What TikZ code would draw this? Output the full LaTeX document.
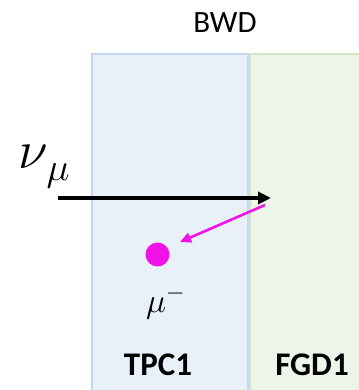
\RequirePackage{fix-cm}
\documentclass[tikz,border=0pt]{standalone}
\usepackage{fontspec}
\setmainfont{Carlito}
\usetikzlibrary{arrows.meta}
\definecolor{bluefill}{HTML}{E8F0F9}
\definecolor{blueedge}{HTML}{C4D9EF}
\definecolor{greenfill}{HTML}{EDF5E8}
\definecolor{greenedge}{HTML}{D2E6C4}
\definecolor{mag}{HTML}{F012E6}
\tikzset{
  detbox/.style={anchor=north west, inner sep=0pt, outer sep=0pt, line width=1.3pt},
  lbl/.style={inner sep=0pt, font=\fontsize{31}{36}\selectfont},
  blbl/.style={inner sep=0pt, font=\fontsize{33}{38}\selectfont\bfseries},
}
\begin{document}
\begin{tikzpicture}[x=1pt,y=-1pt]
\useasboundingbox (0,0) rectangle (358,390);
\node[detbox, draw=blueedge, fill=bluefill, minimum width=156pt, minimum height=345pt] (tpc) at (92,54) {};
\node[detbox, draw=greenedge, fill=greenfill, minimum width=120pt, minimum height=345pt] (fgd) at (250,54) {};
\node[lbl] (bwd) at (225,23) {BWD};
\node[blbl] (tpclbl) at (158,365) {TPC1};
\node[blbl] (fgdlbl) at (312,365) {FGD1};
\node[inner sep=0pt, anchor=base west, font=\fontsize{54}{58}\selectfont] (nu) at (18,168) {$\nu$\kern-1pt\raisebox{-12pt}{\fontsize{39}{42}\selectfont$\mu$}};
\node[inner sep=0pt, anchor=base west, font=\fontsize{34}{38}\selectfont] (mu) at (146,312) {$\mu^-$};
\node[circle, fill=mag, minimum size=24pt, inner sep=0pt] (dot) at (157.5,254.5) {};
\coordinate (nustart) at (58,198);
\coordinate (vertex) at (271,198);
\coordinate (mustart) at (265,205);
\coordinate (muend) at (180,242);
\draw[line width=3.8pt, -{Triangle[length=13pt,width=12pt]}] (nustart) -- (vertex);
\draw[mag, line width=2.6pt, -{Triangle[length=11pt,width=10pt]}] (mustart) -- (muend);
\end{tikzpicture}
\end{document}
